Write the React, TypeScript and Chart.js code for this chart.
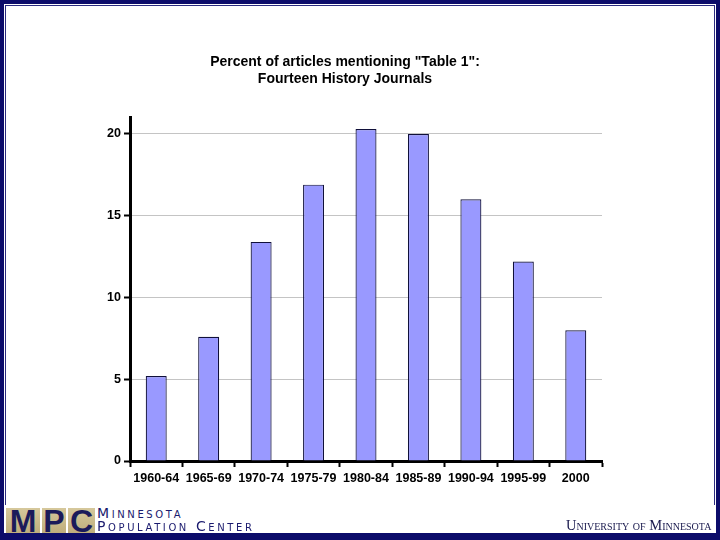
import React, { useEffect, useRef } from "react";
import { Chart, registerables } from "chart.js";

Chart.register(...registerables);

const categories = ["1960-64", "1965-69", "1970-74", "1975-79", "1980-84", "1985-89", "1990-94", "1995-99", "2000"];
const percentValues = [5.2, 7.6, 13.4, 16.9, 20.3, 20.0, 16.0, 12.2, 8.0];
const titleLines = ['Percent of articles mentioning "Table 1":', "Fourteen History Journals"];
const yTickStep = 5;
const yMax = 21;

const FONT = "'Liberation Sans', Arial, sans-serif";
const NAVY = "#0c0c6a";

export default function App() {
  const canvasRef = useRef<HTMLCanvasElement | null>(null);

  useEffect(() => {
    const canvas = canvasRef.current;
    if (!canvas) return;
    const chart = new Chart(canvas, {
      type: "bar",
      data: {
        labels: categories,
        datasets: [
          {
            data: percentValues,
            backgroundColor: "#9999ff",
            borderColor: "#10103a",
            borderWidth: 1.2,
            categoryPercentage: 1,
            barPercentage: 0.4,
          },
        ],
      },
      options: {
        responsive: false,
        animation: false,
        layout: { padding: { left: 88, right: 118, top: 0, bottom: 9 } },
        plugins: {
          legend: { display: false },
          tooltip: { enabled: false },
          title: {
            display: true,
            text: titleLines,
            color: "#000",
            font: { family: FONT, size: 14, weight: "bold", lineHeight: 1.2 },
            padding: { top: 54, bottom: 30 },
          },
        },
        scales: {
          x: {
            grid: {
              offset: true,
              drawOnChartArea: false,
              drawTicks: true,
              tickLength: 6,
              tickColor: "#000",
              tickWidth: 2,
            },
            border: { color: "#000", width: 3 },
            ticks: {
              color: "#000",
              font: { family: FONT, size: 12.5, weight: "bold" },
              padding: 4,
              maxRotation: 0,
              autoSkip: false,
            },
            afterFit: (s: any) => {
              s.height = 30;
            },
          },
          y: {
            min: 0,
            max: yMax,
            ticks: {
              stepSize: yTickStep,
              includeBounds: false,
              color: "#000",
              font: { family: FONT, size: 12.5, weight: "bold" },
              padding: 3,
            },
            grid: {
              color: "#c4c4c4",
              lineWidth: 1,
              tickColor: "#000",
              tickLength: 6,
              tickWidth: 2,
            },
            border: { color: "#000", width: 3 },
            afterFit: (s: any) => {
              s.width = 42;
            },
          },
        },
      },
    });
    return () => chart.destroy();
  }, []);

  const smallCaps: React.CSSProperties = {
    fontFamily: "'DejaVu Sans', sans-serif",
    fontVariant: "small-caps",
    color: "#1a1a6e",
    letterSpacing: "2.6px",
    whiteSpace: "nowrap",
  };

  const logoBox = (letter: string, left: number, width: number) => (
    <div
      style={{
        position: "absolute",
        left,
        top: 508,
        width,
        height: 25,
        background: "linear-gradient(180deg, #d6c89c 0%, #bfae7c 100%)",
        color: "#1b1b5a",
        fontFamily: "'Liberation Sans', Arial, sans-serif",
        fontWeight: "bold",
        fontSize: 32,
        lineHeight: "27px",
        textAlign: "center",
        overflow: "hidden",
      }}
    >
      {letter}
    </div>
  );

  return (
    <div
      style={{
        position: "fixed",
        left: 0,
        top: 0,
        width: 720,
        height: 540,
        background: "#fff",
        overflow: "hidden",
      }}
    >
      <canvas ref={canvasRef} width={720} height={500} style={{ position: "absolute", left: 0, top: 0 }} />
      {/* outer frame */}
      <div style={{ position: "absolute", left: 0, top: 0, width: 720, height: 4, background: NAVY }} />
      <div style={{ position: "absolute", left: 0, top: 0, width: 4, height: 540, background: NAVY }} />
      <div style={{ position: "absolute", left: 716, top: 0, width: 4, height: 540, background: NAVY }} />
      <div style={{ position: "absolute", left: 0, top: 533, width: 720, height: 7, background: NAVY }} />
      {/* inner thin frame */}
      <div style={{ position: "absolute", left: 5, top: 5, width: 710, height: 1, background: "#2a2a80" }} />
      <div style={{ position: "absolute", left: 5, top: 5, width: 1, height: 500, background: "#2a2a80" }} />
      <div style={{ position: "absolute", left: 714, top: 5, width: 1, height: 500, background: "#2a2a80" }} />
      {/* footer logo */}
      {logoBox("M", 6, 34)}
      {logoBox("P", 42, 24)}
      {logoBox("C", 68, 27)}
      <div style={{ ...smallCaps, position: "absolute", left: 97, top: 506, fontSize: 14, lineHeight: "14px" }}>
        Minnesota
      </div>
      <div style={{ ...smallCaps, position: "absolute", left: 97, top: 519, fontSize: 14, lineHeight: "15px" }}>
        Population Center
      </div>
      <div
        style={{
          position: "absolute",
          left: 566,
          top: 518,
          fontFamily: "'Liberation Serif', 'DejaVu Serif', serif",
          fontVariant: "small-caps",
          fontSize: 14.5,
          lineHeight: "15px",
          color: "#1a1a4e",
          whiteSpace: "nowrap",
        }}
      >
        University of Minnesota
      </div>
    </div>
  );
}
